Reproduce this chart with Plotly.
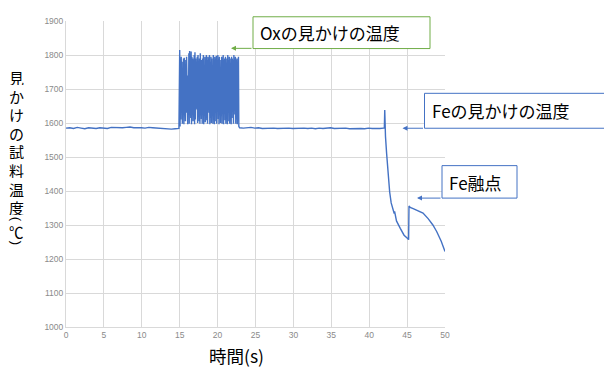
import numpy as np
import plotly.graph_objects as go

# ---- data ----
base1_vals = [1585, 1586, 1584, 1587, 1585, 1583, 1586, 1585, 1584, 1586, 1585,
              1584, 1587, 1586, 1585, 1586, 1587, 1588, 1586, 1587, 1586, 1585,
              1587, 1586, 1585, 1584, 1585, 1584, 1582, 1583, 1584]
# oscillating segment (15 s - 22.8 s): alternating peak / trough readings
osc_vals = [1815, 1590, 1790, 1610, 1795, 1640, 1780, 1598, 1760, 1625, 1790, 1596,
            1792, 1690, 1700, 1605, 1785, 1630, 1795, 1610, 1780, 1596, 1740, 1650,
            1805, 1598, 1812, 1625, 1790, 1615, 1810, 1596, 1795, 1700, 1790, 1605,
            1720, 1635, 1800, 1596, 1808, 1610, 1790, 1660, 1785, 1640, 1795, 1600,
            1800, 1620, 1760, 1605, 1790, 1598, 1805, 1680, 1795, 1612, 1785, 1598,
            1790, 1645, 1800, 1596, 1730, 1625, 1795, 1602, 1790, 1660, 1800, 1608,
            1785, 1598, 1795, 1720, 1790, 1630, 1800, 1596, 1780, 1615, 1795, 1600,
            1790, 1655, 1705, 1598, 1800, 1625, 1785, 1596, 1795, 1690, 1790, 1605,
            1798, 1598, 1785, 1660, 1800, 1612, 1790, 1596, 1795, 1640, 1750, 1600,
            1785, 1620, 1795, 1598, 1790, 1700, 1800, 1596, 1785, 1650, 1790, 1608,
            1795, 1598, 1780, 1635, 1790, 1596, 1800, 1680, 1785, 1605, 1795, 1598,
            1790, 1645, 1740, 1596, 1795, 1615, 1790, 1670, 1785, 1598, 1800, 1625,
            1790, 1660, 1795, 1598, 1785, 1610, 1790, 1596, 1780, 1640, 1795, 1590]
base2_vals = [1586, 1585, 1586, 1587, 1585, 1586, 1584, 1585, 1586, 1585, 1584, 1585,
              1586, 1585, 1584, 1585, 1586, 1585, 1584, 1585, 1583, 1585, 1584, 1585,
              1586, 1584, 1585, 1584, 1585, 1583, 1584, 1585, 1584, 1583, 1585, 1584,
              1583, 1584, 1585]
fe_t = [42.0, 42.05, 42.1, 42.15, 42.3, 42.5, 42.7, 42.9, 43.2, 43.3, 43.35, 43.6,
        44.1, 44.6, 45.0, 45.2, 45.25, 45.4, 45.8, 46.5, 47.1, 47.8, 48.4, 48.9,
        49.5, 50.0]
fe_vals = [1585, 1638, 1580, 1560, 1510, 1450, 1397, 1365, 1339, 1334, 1340, 1312,
           1290, 1270, 1262, 1257, 1356, 1352, 1348, 1342, 1335, 1318, 1300, 1281,
           1252, 1222]

base1_t = np.linspace(0.0, 14.9, len(base1_vals))
osc_t = np.linspace(15.0, 22.8, len(osc_vals))
base2_t = np.linspace(22.9, 41.9, len(base2_vals))

t = list(base1_t) + list(osc_t) + list(base2_t) + fe_t
v = base1_vals + osc_vals + base2_vals + fe_vals

x_ticks = [0, 5, 10, 15, 20, 25, 30, 35, 40, 45, 50]
y_ticks = [1000, 1100, 1200, 1300, 1400, 1500, 1600, 1700, 1800, 1900]

# ---- layout helpers (page pixel -> paper); page has an 8px body margin ----
OFF = 8
L, R, T, B = 66, 445, 16, 327
def px(x):
    return (x - L) / (R - L)
def py(y):
    return (B - y) / (B - T)

BLUE = "#4472C4"
GREEN = "#70AD47"
CJK = "Noto Sans CJK JP"

fig = go.Figure()
fig.add_trace(go.Scatter(x=t, y=v, mode="lines",
                         line=dict(color=BLUE, width=1.4), showlegend=False))

grid = "#d9d9d9"
fig.update_xaxes(range=[0, 50], tickvals=x_ticks, showgrid=True, gridcolor=grid,
                 showline=True, linecolor=grid, zeroline=False, ticks="",
                 tickfont=dict(family="Liberation Sans", size=8.5, color="#8a8a8a"))
fig.update_yaxes(range=[1000, 1900], tickvals=y_ticks, showgrid=True, gridcolor=grid,
                 showline=True, linecolor=grid, zeroline=False, ticks="",
                 tickfont=dict(family="Liberation Sans", size=8.5, color="#8a8a8a"))

fig.update_layout(width=612 - OFF, height=372 - OFF,
                  margin=dict(l=L - OFF, r=612 - R, t=T - OFF, b=372 - B),
                  paper_bgcolor="white", plot_bgcolor="white")

shapes = []
annos = []

def box(x0, y0, x1, y1, color):
    shapes.append(dict(type="rect", xref="paper", yref="paper",
                       x0=px(x0), x1=px(x1), y0=py(y1), y1=py(y0),
                       line=dict(color=color, width=1), fillcolor="white", layer="above"))

def label(x, y, text, size=17):
    annos.append(dict(xref="paper", yref="paper", x=px(x), y=py(y), text=text,
                      showarrow=False, xanchor="left", yanchor="middle",
                      font=dict(family=CJK, size=size, color="black")))

def arrow(xtip, ytip, xtail, color):
    annos.append(dict(xref="paper", yref="paper", x=px(xtip), y=py(ytip), text="",
                      showarrow=True, arrowhead=2, arrowsize=1, arrowwidth=1,
                      arrowcolor=color, ax=xtail - xtip, ay=0))

box(253, 11.7, 430, 44, GREEN)
label(258, 27.5, "Oxの見かけの温度")
arrow(231, 43.8, 253, GREEN)

box(424.5, 89.5, 616, 125, BLUE)
label(430, 107, "Feの見かけの温度")
arrow(402.5, 125, 424.5, BLUE)

box(442, 163, 517, 196, BLUE)
label(447, 180, "Fe融点")
arrow(417, 196, 442, BLUE)

# y-axis title, upright vertical text: one character per row
ytitle = "見かけの試料温度"
for i, ch in enumerate(ytitle):
    annos.append(dict(xref="paper", yref="paper", x=px(16.5), y=py(73 + 18.9 * i),
                      text=ch, showarrow=False, xanchor="center", yanchor="middle",
                      height=16, borderpad=0,
                      font=dict(family=CJK, size=15, color="black")))
annos.append(dict(xref="paper", yref="paper", x=px(16), y=py(229.5), text="℃",
                  showarrow=False, xanchor="center", yanchor="middle", height=15,
                  borderpad=0, font=dict(family=CJK, size=14.5, color="black")))
annos.append(dict(xref="paper", yref="paper", x=px(16.5), y=py(217.5), text="(",
                  textangle=90, showarrow=False, xanchor="center", yanchor="middle",
                  font=dict(family="Liberation Sans", size=13, color="black")))
annos.append(dict(xref="paper", yref="paper", x=px(16.5), y=py(242), text=")",
                  textangle=90, showarrow=False, xanchor="center", yanchor="middle",
                  font=dict(family="Liberation Sans", size=13, color="black")))

# x-axis title
annos.append(dict(xref="paper", yref="paper", x=px(236), y=py(356), text="時間(s)",
                  showarrow=False, xanchor="center", yanchor="middle",
                  font=dict(family=CJK, size=17.5, color="black")))

fig.update_layout(shapes=shapes, annotations=annos)
fig.write_html("out.html")
